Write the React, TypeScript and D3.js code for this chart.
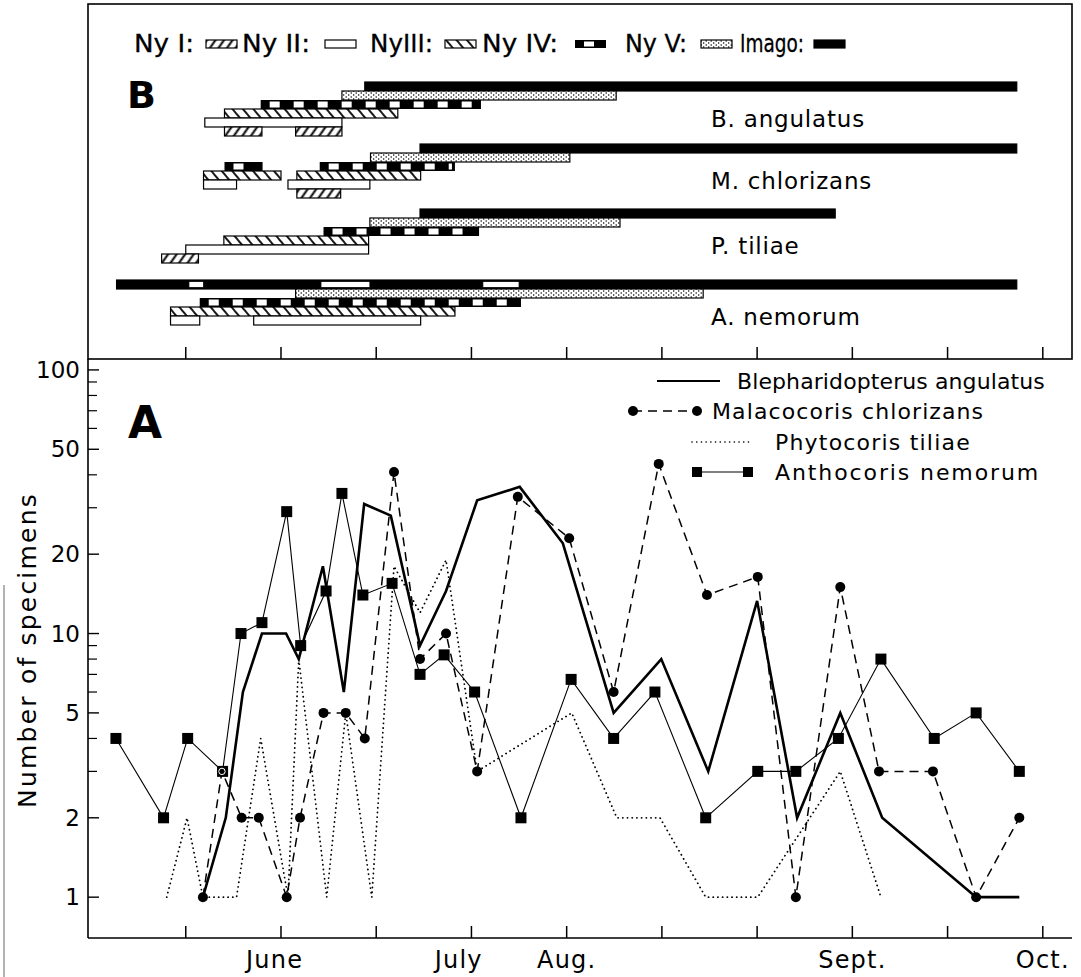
import React from "react";
import * as d3 from "d3";

// ---------- Panel A: sampling dates (days from first tick) and counts ----------
const blephDays = [2.7, 6.3, 9.0, 12.0, 15.8, 17.8, 21.6, 24.9, 28.1, 32.3, 36.9, 41.0, 45.9, 52.6, 59.4, 67.4, 74.9, 82.3, 90.0, 96.3, 103.1, 109.7, 124.5, 131.3];
const blephCounts = [1, 2, 6, 10, 10, 8, 18, 6, 31, 28, 9, 14.5, 32, 36, 22, 5, 8, 3, 13.3, 2, 5, 2, 1, 1];

const malacoDays = [2.7, 5.7, 8.8, 11.5, 15.9, 18.0, 21.7, 25.2, 28.2, 32.8, 36.9, 41.0, 45.9, 52.3, 60.4, 67.4, 74.5, 82.1, 90.1, 96.1, 103.1, 109.2, 117.7, 124.5, 131.3];
const malacoCounts = [1, 3, 2, 2, 1, 2, 5, 5, 4, 41, 8, 10, 3, 33, 23, 6, 44, 14, 16.4, 1, 15, 3, 3, 1, 2];

const phytoDays = [-3.0, 0.2, 2.7, 8.0, 11.8, 16.1, 17.8, 22.2, 25.2, 29.3, 32.8, 36.9, 41.0, 45.9, 60.8, 67.9, 74.7, 81.9, 90.1, 103.1, 109.5];
const phytoCounts = [1, 2, 1, 1, 4, 1, 8, 1, 5, 1, 18, 12, 19, 3, 5, 2, 2, 1, 1, 3, 1];

const anthoDays = [-11, -3.5, 0.3, 5.8, 8.7, 12, 15.9, 18.1, 22.1, 24.6, 27.9, 32.5, 36.9, 40.7, 45.5, 52.8, 60.7, 67.4, 73.9, 81.9, 90.1, 96.1, 102.8, 109.5, 117.9, 124.5, 131.3];
const anthoCounts = [4, 2, 4, 3, 10, 11, 29, 9, 14.5, 34, 14, 15.5, 7, 8.3, 6, 2, 6.7, 4, 6, 2, 3, 3, 4, 8, 4, 5, 3];

const seriesNames = ["Blepharidopterus angulatus", "Malacocoris chlorizans", "Phytocoris tiliae", "Anthocoris nemorum"];

const tickDays = [0, 15, 30, 45, 60, 75, 90, 105, 120, 135];
const monthLabels = ["June", "July", "Aug.", "Sept.", "Oct."];
const monthDays = [14, 43, 60, 105, 135];

const yMajor = [1, 2, 5, 10, 20, 50, 100];
const yMinor = [3, 4, 6, 7, 8, 9, 30, 40, 60, 70, 80, 90];

// ---------- Panel B: occurrence of stages (start day, end day) ----------
const stageOrder = ["Imago", "NyV", "NyIV", "NyIII", "NyII", "NyI"];
const stageLegend = ["Ny I:", "Ny II:", "NyIII:", "Ny IV:", "Ny V:", "Imago:"];
const stageLegendKeys = ["NyI", "NyII", "NyIII", "NyIV", "NyV", "Imago"];

const speciesB = ["B. angulatus", "M. chlorizans", "P. tiliae", "A. nemorum"];

const angulatusBars: [string, number, number][] = [
  ["Imago", 28.2, 130.9],
  ["NyV", 24.6, 67.8],
  ["NyIV", 11.8, 46.5],
  ["NyIII", 6.1, 33.4],
  ["NyII", 3.0, 24.6],
  ["NyI", 6.1, 12.0],
  ["NyI", 17.3, 24.6],
];
const chlorizansBars: [string, number, number][] = [
  ["Imago", 36.9, 130.9],
  ["NyV", 29.1, 60.5],
  ["NyIV", 6.1, 12.1],
  ["NyIV", 21.1, 42.4],
  ["NyIII", 2.8, 15.0],
  ["NyIII", 17.5, 37.0],
  ["NyII", 2.8, 8.0],
  ["NyII", 16.1, 29.0],
  ["NyI", 17.5, 24.4],
];
const tiliaeBars: [string, number, number][] = [
  ["Imago", 36.9, 102.3],
  ["NyV", 29.0, 68.4],
  ["NyIV", 21.7, 46.2],
  ["NyIII", 6.0, 28.8],
  ["NyII", 0.0, 28.8],
  ["NyI", -3.8, 2.0],
];
const nemorumBars: [string, number, number][] = [
  ["Imago", -10.9, 130.9],
  ["NyV", 17.3, 81.5],
  ["NyIV", 2.2, 52.8],
  ["NyIII", -2.4, 42.4],
  ["NyII", -2.4, 2.2],
  ["NyII", 10.7, 37.0],
];
const nemorumImagoGaps = [[0.5, 2.8], [21.3, 29.0], [46.8, 52.5]];
const barsBySpecies = [angulatusBars, chlorizansBars, tiliaeBars, nemorumBars];

// layout
const W = 1081;
const H = 977;
const font = "'DejaVu Sans', 'Liberation Sans', sans-serif";
const blockTop = [82, 144, 209, 280];
const rowStep = 9;
const legendTextX = [134, 242, 370, 482, 625, 740];
const legendTextW = [60, 68, 63, 76, 62, 64];
const legendSwatchX = [206, 325, 445, 575, 701, 814];

function fillFor(stage: string) {
  if (stage === "Imago") return "#000";
  if (stage === "NyV") return "url(#dots)";
  if (stage === "NyIII") return "url(#hatchBack)";
  if (stage === "NyI") return "url(#hatchFwd)";
  return "#fff";
}

function StageBar({ stage, x0, x1, top, h }: { stage: string; x0: number; x1: number; top: number; h: number }) {
  if (stage === "NyIV") {
    const whites = d3.range(x0 + 9, x1 - 6, 24);
    return (
      <g>
        <rect x={x0} y={top} width={x1 - x0} height={h} fill="#000" />
        {whites.map((wx, i) => (
          <rect key={i} x={wx} y={top + 1.5} width={Math.min(10, x1 - 3 - wx)} height={h - 3} fill="#fff" />
        ))}
      </g>
    );
  }
  return <rect x={x0} y={top} width={x1 - x0} height={h} fill={fillFor(stage)} stroke="#000" strokeWidth={1.2} />;
}

export default function App() {
  const x = d3.scaleLinear().domain([-15.4, 139.6]).range([88, 1072]);
  const y = d3.scaleLog().domain([0.7, 110]).range([938, 359]);

  const path = (xs: number[], ys: number[]) =>
    d3.line<number>().x((_, i) => x(xs[i])).y((d) => y(d))(ys) || "";

  const dash = "9 6";
  const dot = "0.1 4.6";

  // circles that sit on top of a square get a white ring, as in the print
  const shared = malacoDays
    .map((d, i) => ({ d, v: malacoCounts[i] }))
    .filter((p) => anthoDays.some((a, j) => Math.abs(a - p.d) < 0.5 && anthoCounts[j] === p.v));

  const legendRows = [
    { y: 381, x0: 657, x1: 720, tx: 737, ls: 0.1 },
    { y: 411, x0: 633, x1: 697, tx: 712, ls: 1.1 },
    { y: 442, x0: 692, x1: 753, tx: 775, ls: 1.2 },
    { y: 472, x0: 697, x1: 748, tx: 775, ls: 1.9 },
  ];

  return (
    <svg width={W} height={H} style={{ position: "absolute", left: 0, top: 0, background: "#fff" }} fontFamily={font}>
      <defs>
        <pattern id="hatchFwd" width="7" height="7" patternUnits="userSpaceOnUse" patternTransform="rotate(35)">
          <rect width="7" height="7" fill="#fff" />
          <line x1="3.5" y1="0" x2="3.5" y2="7" stroke="#000" strokeWidth="2" />
        </pattern>
        <pattern id="hatchBack" width="8" height="8" patternUnits="userSpaceOnUse" patternTransform="rotate(-40)">
          <rect width="8" height="8" fill="#fff" />
          <line x1="4" y1="0" x2="4" y2="8" stroke="#000" strokeWidth="1.8" />
        </pattern>
        <pattern id="dots" width="5" height="4" patternUnits="userSpaceOnUse">
          <rect width="5" height="4" fill="#fff" />
          <circle cx="1.2" cy="1" r="0.75" fill="#000" />
          <circle cx="3.7" cy="3" r="0.75" fill="#000" />
        </pattern>
      </defs>

      {/* scan edge */}
      <line x1={4} y1={585} x2={4} y2={H} stroke="#666" strokeWidth={1} />

      {/* ---------------- Panel B ---------------- */}
      <rect x={88} y={4} width={1072 - 88} height={359 - 4} fill="none" stroke="#000" strokeWidth={1.6} />
      {tickDays.map((d) => (
        <line key={"bt" + d} x1={x(d)} x2={x(d)} y1={359} y2={347} stroke="#000" strokeWidth={1.5} />
      ))}

      {stageLegend.map((lab, i) => (
        <g key={lab}>
          <text
            x={legendTextX[i]}
            y={52}
            fontSize={24}
            stroke="#000"
            strokeWidth={0.3}
            textLength={legendTextW[i]}
            lengthAdjust="spacingAndGlyphs"
          >
            {lab}
          </text>
          <StageBar stage={stageLegendKeys[i]} x0={legendSwatchX[i]} x1={legendSwatchX[i] + 31} top={40} h={8} />
        </g>
      ))}

      <text x={127} y={108} fontSize={38} fontWeight="bold">B</text>

      {barsBySpecies.map((bars, si) => (
        <g key={speciesB[si]}>
          {bars.map(([stage, a, b], k) => (
            <StageBar key={k} stage={stage} x0={x(a)} x1={x(b)} top={blockTop[si] + stageOrder.indexOf(stage) * rowStep} h={rowStep} />
          ))}
          <text x={711} y={blockTop[si] + 45} fontSize={23} letterSpacing={0.8}>{speciesB[si]}</text>
        </g>
      ))}
      {nemorumImagoGaps.map(([a, b], k) => (
        <rect key={"gap" + k} x={x(a)} y={blockTop[3] + 1.5} width={x(b) - x(a)} height={rowStep - 3} fill="#fff" stroke="#000" strokeWidth={0.8} />
      ))}

      {/* ---------------- Panel A ---------------- */}
      <line x1={88} x2={88} y1={359} y2={938} stroke="#000" strokeWidth={1.6} />
      <line x1={88} x2={1072} y1={938} y2={938} stroke="#000" strokeWidth={1.6} />
      {tickDays.map((d) => (
        <line key={"at" + d} x1={x(d)} x2={x(d)} y1={938} y2={926} stroke="#000" strokeWidth={1.5} />
      ))}
      {monthLabels.map((m, i) => (
        <text key={m} x={x(monthDays[i])} y={968} fontSize={24} textAnchor="middle" letterSpacing={1.2}>{m}</text>
      ))}
      {yMajor.map((v) => (
        <g key={"ym" + v}>
          <line x1={88} x2={99} y1={y(v)} y2={y(v)} stroke="#000" strokeWidth={1.4} />
          <text x={80} y={y(v) + 8} fontSize={23} textAnchor="end">{v}</text>
        </g>
      ))}
      {yMinor.map((v) => (
        <line key={"yn" + v} x1={88} x2={97} y1={y(v)} y2={y(v)} stroke="#000" strokeWidth={1.2} />
      ))}
      <text transform={`translate(36,650) rotate(-90)`} fontSize={25} textAnchor="middle" letterSpacing={2.2}>
        Number of specimens
      </text>
      <text x={128} y={438} fontSize={44} fontWeight="bold">A</text>

      {/* series lines */}
      <path d={path(phytoDays, phytoCounts)} fill="none" stroke="#000" strokeWidth={1.8} strokeDasharray={dot} strokeLinecap="round" />
      <path d={path(malacoDays, malacoCounts)} fill="none" stroke="#000" strokeWidth={1.5} strokeDasharray={dash} />
      <path d={path(anthoDays, anthoCounts)} fill="none" stroke="#000" strokeWidth={1.1} />
      <path d={path(blephDays, blephCounts)} fill="none" stroke="#000" strokeWidth={2.6} strokeLinejoin="miter" />

      {anthoCounts.map((v, i) => (
        <rect key={"sq" + i} x={x(anthoDays[i]) - 5.5} y={y(v) - 5.5} width={11} height={11} fill="#000" />
      ))}
      {malacoCounts.map((v, i) => (
        <circle key={"ci" + i} cx={x(malacoDays[i])} cy={y(v)} r={5} fill="#000" />
      ))}
      {shared.map((p, i) => (
        <circle key={"sh" + i} cx={x(p.d)} cy={y(p.v)} r={3.2} fill="none" stroke="#fff" strokeWidth={1} />
      ))}

      {/* legend A */}
      {legendRows.map((r, i) => (
        <g key={"lg" + i}>
          {i === 0 && <line x1={r.x0} x2={r.x1} y1={r.y} y2={r.y} stroke="#000" strokeWidth={2} />}
          {i === 1 && (
            <g>
              <line x1={r.x0} x2={r.x1} y1={r.y} y2={r.y} stroke="#000" strokeWidth={1.5} strokeDasharray="9 6" />
              <circle cx={r.x0} cy={r.y} r={5} fill="#000" />
              <circle cx={r.x1} cy={r.y} r={5} fill="#000" />
            </g>
          )}
          {i === 2 && <line x1={r.x0} x2={r.x1} y1={r.y} y2={r.y} stroke="#000" strokeWidth={1.6} strokeDasharray={dot} strokeLinecap="round" />}
          {i === 3 && (
            <g>
              <line x1={r.x0} x2={r.x1} y1={r.y} y2={r.y} stroke="#000" strokeWidth={1.2} />
              <rect x={r.x0 - 5} y={r.y - 5} width={10} height={10} fill="#000" />
              <rect x={r.x1 - 5} y={r.y - 5} width={10} height={10} fill="#000" />
            </g>
          )}
          <text x={r.tx} y={r.y + 8} fontSize={22} letterSpacing={r.ls}>{seriesNames[i]}</text>
        </g>
      ))}
    </svg>
  );
}
